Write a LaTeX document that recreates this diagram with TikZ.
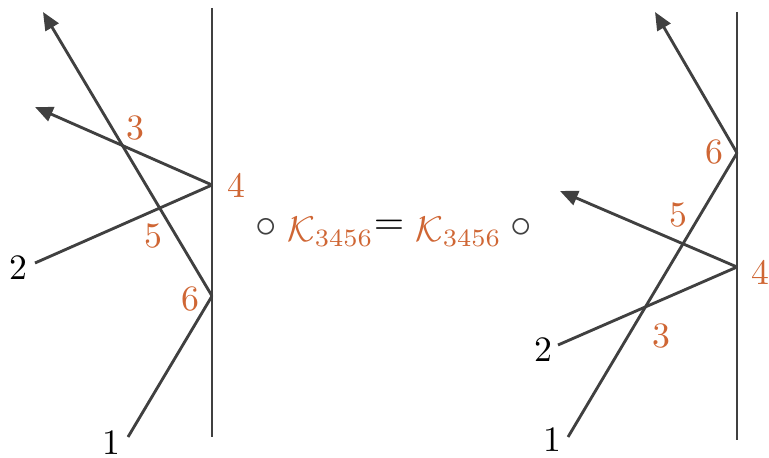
\documentclass[tikz,border=0pt]{standalone}
\usetikzlibrary{arrows.meta}
\definecolor{ln}{RGB}{64,64,64}
\definecolor{org}{RGB}{207,102,52}
\begin{document}
\begin{tikzpicture}[x=0.28pt,y=-0.28pt,
  wall/.style={draw=ln,line width=0.8pt},
  ray/.style={draw=ln,line width=0.8pt},
  arr/.style={ray,-{Triangle[length=5pt,width=4.2pt]}},
  olab/.style={text=org,inner sep=0pt},
  blab/.style={text=black,inner sep=0pt},
  kap/.style={text=org,inner sep=0pt,font=\fontsize{10}{12}\selectfont},
  dot/.style={text=ln,inner sep=0pt,font=\fontsize{11.5}{13}\selectfont}]
\useasboundingbox (0,0) rectangle (769,457);
% left panel
\coordinate (Lt) at (212,8);
\coordinate (Lb) at (212,437);
\coordinate (L4) at (212,185);
\coordinate (L6) at (212,296);
\coordinate (L1) at (128,437);
\coordinate (L2) at (35,263);
\coordinate (La1) at (43,12);
\coordinate (La2) at (35,107);
\draw[wall] (Lt) -- (Lb);
\draw[ray] (L1) -- (L6);
\draw[arr] (L6) -- (La1);
\draw[ray] (L2) -- (L4);
\draw[arr] (L4) -- (La2);
\node[olab] (l3) at (135,128) {3};
\node[olab] (l4) at (236,185) {4};
\node[olab] (l5) at (153,236) {5};
\node[olab] (l6) at (190,299) {6};
\node[blab] (l2) at (18,268) {2};
\node[blab] (l1) at (111,443) {1};
% middle
\node[dot] (c1) at (266,228) {$\circ$};
\node[kap,anchor=west] (k1) at (287,232) {$\mathcal{K}_{3456}$};
\node[inner sep=0pt,font=\fontsize{10.8}{13}\selectfont] (eq) at (389,227) {$=$};
\node[kap,anchor=west] (k2) at (415,232) {$\mathcal{K}_{3456}$};
\node[dot] (c2) at (521,228) {$\circ$};
% right panel
\coordinate (Rt) at (737,12);
\coordinate (Rb) at (737,440);
\coordinate (R6) at (737,153);
\coordinate (R4) at (737,267);
\coordinate (R1) at (568,437);
\coordinate (R2) at (558,345);
\coordinate (Ra1) at (655,12);
\coordinate (Ra2) at (560,191);
\draw[wall] (Rt) -- (Rb);
\draw[ray] (R1) -- (R6);
\draw[arr] (R6) -- (Ra1);
\draw[ray] (R2) -- (R4);
\draw[arr] (R4) -- (Ra2);
\node[olab] (r6) at (714,152) {6};
\node[olab] (r5) at (678,215) {5};
\node[olab] (r4) at (760,272) {4};
\node[olab] (r3) at (661,336) {3};
\node[blab] (r2) at (543,350) {2};
\node[blab] (r1) at (552,440) {1};
\end{tikzpicture}
\end{document}
